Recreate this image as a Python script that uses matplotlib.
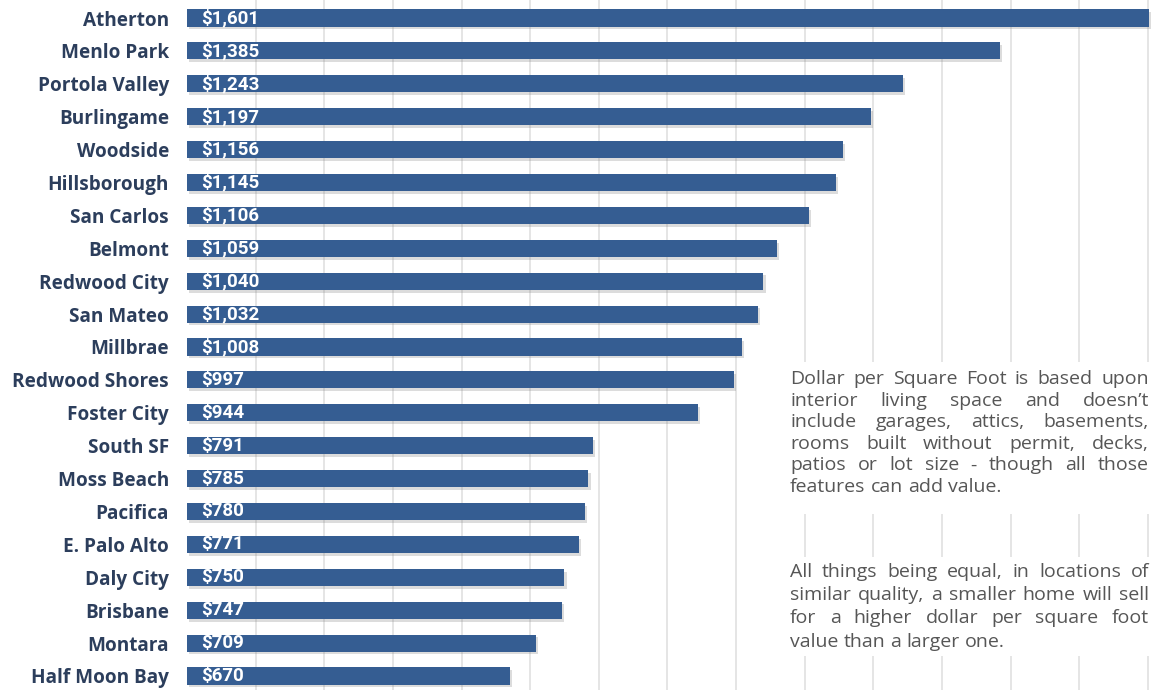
import matplotlib
matplotlib.use("Agg")
import matplotlib.pyplot as plt
from matplotlib import font_manager
import matplotlib.patheffects as pe

cities = ["Atherton", "Menlo Park", "Portola Valley", "Burlingame", "Woodside",
          "Hillsborough", "San Carlos", "Belmont", "Redwood City", "San Mateo",
          "Millbrae", "Redwood Shores", "Foster City", "South SF", "Moss Beach",
          "Pacifica", "E. Palo Alto", "Daly City", "Brisbane", "Montara",
          "Half Moon Bay"]
price_per_sqft = [1601, 1385, 1243, 1197, 1156, 1145, 1106, 1059, 1040, 1032,
                  1008, 997, 944, 791, 785, 780, 771, 750, 747, 709, 670]
grid_ticks = list(range(300, 1700, 100))

note_1 = [
    "Dollar per Square Foot is based upon",
    "interior living space and doesn\u2019t",
    "include garages, attics, basements,",
    "rooms built without permit, decks,",
    "patios or lot size - though all those",
    "features can add value.",
]
note_2 = [
    "All things being equal, in locations of",
    "similar quality, a smaller home will sell",
    "for a higher dollar per square foot",
    "value than a larger one.",
]


def pick_font(names):
    for n in names:
        try:
            font_manager.findfont(font_manager.FontProperties(family=n),
                                  fallback_to_default=False)
            return n
        except Exception:
            continue
    return "DejaVu Sans"


label_font = pick_font(["Open Sans", "Lato"])
value_font = pick_font(["Liberation Sans Narrow", "Roboto", "Open Sans"])
note_font = pick_font(["Open Sans", "Lato"])

BAR = "#355d92"
LABEL = "#2c3e5c"
NOTE = "#565656"
GRID = "#dedede"

W, H, DPI = 1154, 690, 100
fig = plt.figure(figsize=(W / DPI, H / DPI), dpi=DPI)
fig.patch.set_facecolor("white")

ax_left = 187 / W
ax = fig.add_axes([ax_left, 0, 1 - ax_left, 1])
row_px = 32.9
top_center = 18
y0 = -top_center / row_px
ax.set_ylim(y0 + H / row_px, y0)
ax.set_xlim(200, 1609)

ypos = list(range(len(cities)))
bars = ax.barh(ypos, [v - 200 for v in price_per_sqft], left=200,
               height=0.52, color=BAR, zorder=3)
for b in bars:
    b.set_path_effects([pe.SimplePatchShadow(offset=(1.5, -2), alpha=0.25,
                                             shadow_rgbFace="#777777"),
                        pe.Normal()])

for x in grid_ticks:
    ax.axvline(x, color=GRID, lw=1.1, zorder=1)

for y, v in zip(ypos, price_per_sqft):
    ax.annotate(f"${v:,}", xy=(200, y), xytext=(14, 0),
                textcoords="offset pixels", va="center", ha="left",
                color="white", fontsize=13.5, fontweight="bold",
                family=value_font, zorder=5)

ax.set_yticks(ypos)
ax.set_yticklabels(cities, fontsize=13.7, fontweight="bold", color=LABEL,
                   family=label_font)
ax.tick_params(axis="y", length=0, pad=13)
ax.set_xticks([])
for s in ax.spines.values():
    s.set_visible(False)

# white panels behind the notes
for (x0, x1, ya, yb) in [(780, 1154, 362, 514), (780, 1154, 557, 656)]:
    fig.patches.append(plt.Rectangle((x0 / W, 1 - yb / H), (x1 - x0) / W,
                                     (yb - ya) / H, transform=fig.transFigure,
                                     facecolor="white", edgecolor="none",
                                     zorder=4))

fig.canvas.draw()
renderer = fig.canvas.get_renderer()
NOTE_SIZE = 14


def text_width(s):
    t = fig.text(0, 0, s, fontsize=NOTE_SIZE, family=note_font)
    w = t.get_window_extent(renderer).width
    t.remove()
    return w


def justified(lines, x_left, x_right, y_first, line_h):
    sw = text_width("a b") - text_width("ab")
    for i, line in enumerate(lines):
        words = line.split(" ")
        y = 1 - (y_first + i * line_h) / H
        texts, widths = [], []
        for w in words:
            t = fig.text(0, y, w, fontsize=NOTE_SIZE, color=NOTE,
                         family=note_font, va="center", ha="left", zorder=6)
            widths.append(t.get_window_extent(renderer).width)
            texts.append(t)
        if i == len(lines) - 1 or len(words) == 1:
            gap = sw
        else:
            gap = (x_right - x_left - sum(widths)) / (len(words) - 1)
        x = x_left
        for t, wd in zip(texts, widths):
            t.set_x(x / W)
            x += wd + gap


justified(note_1, 790, 1149, 379, 21.6)
justified(note_2, 790, 1149, 572, 23.2)

fig.savefig("out.png", dpi=DPI, facecolor="white")
